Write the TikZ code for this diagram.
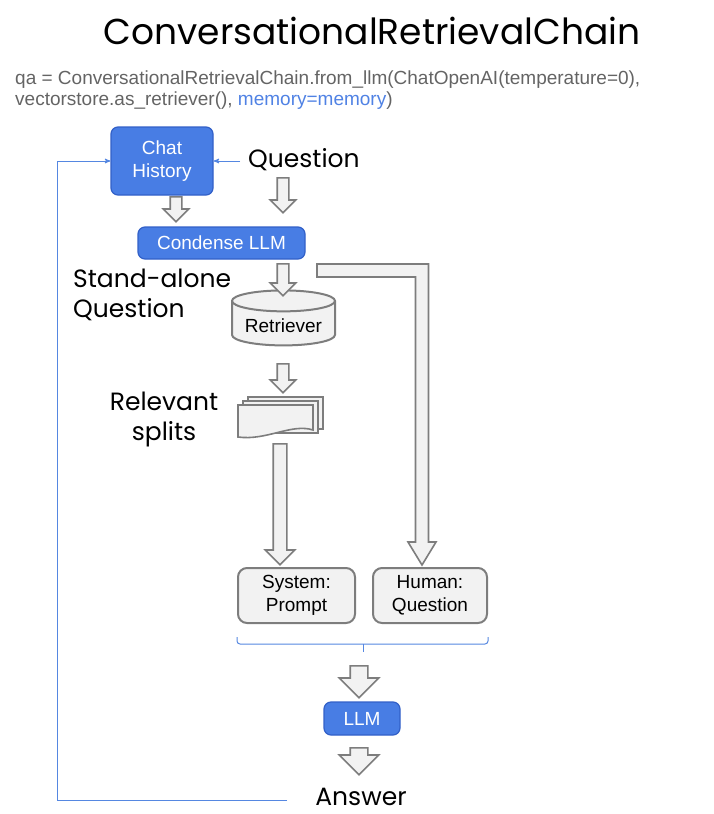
\documentclass[tikz,border=0pt]{standalone}
\usepackage{fontspec}
\setmainfont{Liberation Sans}
\newfontfamily\popfont{Poppins}
\usetikzlibrary{calc,positioning,arrows,shapes.geometric,shapes.arrows}
\definecolor{chainblue}{RGB}{72,125,228}
\definecolor{chainedge}{RGB}{50,96,200}
\definecolor{codegray}{RGB}{100,100,100}
\definecolor{codeblue}{RGB}{80,130,228}
\definecolor{pipegray}{RGB}{125,125,125}
\definecolor{pipefill}{RGB}{242,242,242}
\definecolor{linkblue}{RGB}{85,135,225}
\tikzset{
>=stealth',
  bluebox/.style={
    rectangle,
    rounded corners=7pt,
    fill=chainblue,
    draw=chainedge, line width=1.2pt,
    text=white,
    font=\fontsize{19}{23}\selectfont,
    align=center,
    inner sep=0pt},
  graybox/.style={
    rectangle,
    rounded corners=9pt,
    fill=pipefill,
    draw=pipegray, line width=2pt,
    font=\fontsize{19}{23}\selectfont,
    align=center,
    inner sep=0pt,
    minimum height=55pt},
  flowarrow/.style={
    single arrow,
    draw=pipegray, fill=pipefill, line width=1.6pt,
    inner sep=5pt,
    shape border rotate=270,
    single arrow head extend=7pt,
    anchor=tail},
  widearrow/.style={flowarrow, inner sep=8pt, single arrow head extend=11pt},
  bigtext/.style={font=\popfont\fontsize{25}{30}\selectfont, inner sep=0pt},
  link/.style={draw=linkblue, line width=1pt},
}
\begin{document}
\begin{tikzpicture}[x=1pt, y=-1pt]
\useasboundingbox (0,0) rectangle (714,814);

% title and code
\node[font=\popfont\fontsize{36}{40}\selectfont] (title) at (372,31) {ConversationalRetrievalChain};
\node[anchor=west, align=left, text=codegray, inner sep=0pt,
      font=\fontsize{19}{21}\selectfont] (code) at (15,90)
  {qa = ConversationalRetrievalChain.from\_llm(ChatOpenAI(temperature=0),\\
   vectorstore.as\_retriever(), \textcolor{codeblue}{memory=memory})};

% question stage
\node[bluebox, minimum width=102pt, minimum height=68pt] (chat) at (162,161) {Chat\\History};
\node[bigtext, anchor=west] (question) at (248,160) {Question};
\node[bluebox, minimum width=167pt, minimum height=32pt] (condense) at (221.5,243) {Condense LLM};
\node[bigtext, anchor=north west, align=left] (standalone) at (73,269) {Stand-alone\\Question};
\node[flowarrow, minimum height=25pt] (chatdown) at (176,196) {};
\node[flowarrow, minimum height=35pt] (questiondown) at (283,177) {};

% retrieval
\node[cylinder, shape border rotate=90, aspect=0.25, draw=pipegray, fill=pipefill,
      line width=2pt, minimum width=103pt, minimum height=55pt,
      font=\fontsize{19}{23}\selectfont] (retriever) at (283.5,325.5) {Retriever};
\node[flowarrow, minimum height=32pt] (condensedown) at (283,263) {};
\node[flowarrow, minimum height=29pt] (retrieverdown) at (283,363) {};

% relevant splits
\begin{scope}[draw=pipegray, fill=pipefill, line width=1.6pt]
  \filldraw (248,397) rectangle (323,429);
  \filldraw (243,401) rectangle (318,433);
  \filldraw (238,405) -- (313,405) -- (313,430) .. controls (292,423) and (266,441) .. (238,437) -- cycle;
\end{scope}
\coordinate (splits) at (280,437);
\node[bigtext, align=center] (relevant) at (164,419) {Relevant\\splits};
\node[flowarrow, minimum height=121pt, inner sep=6pt, single arrow head extend=8pt] (splitsdown) at ([yshift=-6pt]splits) {};

% prompt parts
\node[graybox, minimum width=117pt] (system) at (296.5,595.5) {System:\\Prompt};
\node[graybox, minimum width=114pt] (human) at (430,595.5) {Human:\\Question};
\filldraw[draw=pipegray, fill=pipefill, line width=1.6pt]
  (317,264) -- (428.5,264) -- (428.5,542) -- (436,542) -- (422,565)
  -- (408,542) -- (415.5,542) -- (415.5,277) -- (317,277) -- cycle;
\coordinate (braceleft) at (system.south west |- 0,637);
\coordinate (braceright) at (human.south east |- 0,637);
\coordinate (bracemid) at (363,652);
\draw[link, rounded corners=3pt] (braceleft) -- ++(0,7) -| (braceright);
\draw[link] (bracemid |- 0,644) -- (bracemid);

% answer
\node[bluebox, minimum width=76pt, minimum height=33pt] (llm) at (362,718.5) {LLM};
\node[widearrow, minimum height=32pt] (bracedown) at (359,665) {};
\node[widearrow, minimum height=27pt] (llmdown) at (359,747) {};
\node[bigtext] (answer) at (361,797) {Answer};

% memory links
\draw[link, ->] (question.west) ++(-8,1) -- (chat.east |- 0,161);
\draw[link, ->] (answer.west) ++(-28,3) -| (57,161) -- (chat.west |- 0,161);
\end{tikzpicture}
\end{document}
